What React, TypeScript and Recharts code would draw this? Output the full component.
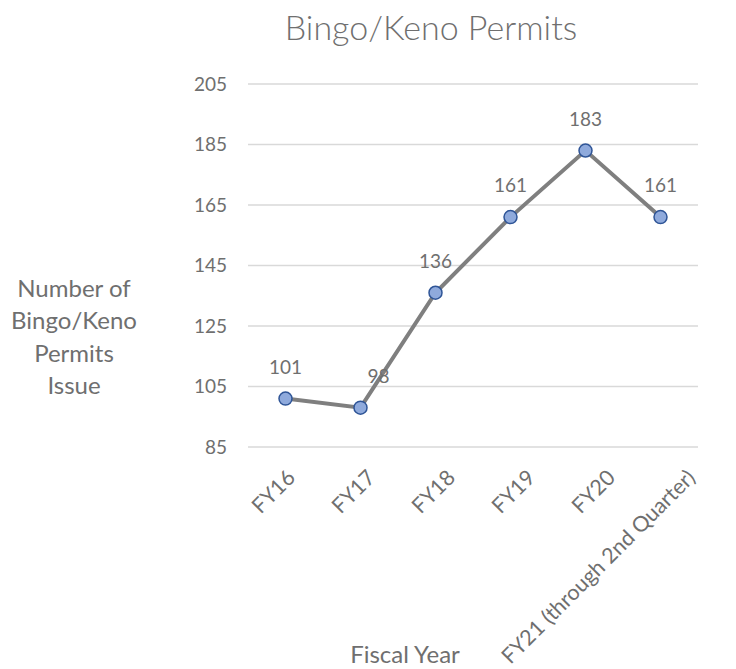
import React from 'react';
import { LineChart, Line, XAxis, YAxis, CartesianGrid, LabelList, Customized } from 'recharts';

// Chart data
const fiscalYears = ['FY16', 'FY17', 'FY18', 'FY19', 'FY20', 'FY21 (through 2nd Quarter)'];
const permitsIssued = [101, 98, 136, 161, 183, 161];
const yTicks = [85, 105, 125, 145, 165, 185, 205];

const chartTitle = 'Bingo/Keno Permits';
const yAxisTitle = ['Number of', 'Bingo/Keno', 'Permits', 'Issue'];
const xAxisTitle = 'Fiscal Year';

const data = fiscalYears.map((fy, i) => ({ fy, permits: permitsIssued[i] }));

const FONT = 'Lato, "Open Sans", sans-serif';
const TEXT = '#6f6f6f';

// angled category labels, end of the text sits just right of the point
const XTick = (props: any) => {
  const { x, y, payload, index } = props;
  const tx = x + 11 + index * 5;
  const ty = y + 24;
  return (
    <text
      x={tx}
      y={ty}
      textAnchor="end"
      fontSize={21.5}
      fill={TEXT}
      fontFamily={FONT}
      transform={`rotate(-45, ${tx}, ${ty})`}
    >
      {payload.value}
    </text>
  );
};

// value labels above each point (the FY17 one sits a little to the right, like the original)
const ValueLabel = (props: any) => {
  const { x, y, value, index } = props;
  const dx = index === 1 ? 18 : 0;
  return (
    <text x={x + dx} y={y - 25} textAnchor="middle" fontSize={19} fill={TEXT} fontFamily={FONT}>
      {value}
    </text>
  );
};

const Titles = () => (
  <g fontFamily={FONT} fill={TEXT}>
    <text x={431} y={40} textAnchor="middle" fontSize={34} fontWeight={300}>
      {chartTitle}
    </text>
    {yAxisTitle.map((line, i) => (
      <text key={line} x={74} y={297 + i * 32.3} textAnchor="middle" fontSize={24}>
        {line}
      </text>
    ))}
    <text x={405} y={663} textAnchor="middle" fontSize={24}>
      {xAxisTitle}
    </text>
  </g>
);

const App: React.FC = () => {
  return (
    <div style={{ position: 'absolute', left: 0, top: 0, background: '#fff' }}>
      <LineChart
        width={736}
        height={669}
        data={data}
        margin={{ top: 84, right: 38, left: 0, bottom: 0 }}
      >
        <CartesianGrid vertical={false} stroke="#d9d9d9" strokeWidth={1.3} />
        <XAxis
          dataKey="fy"
          interval={0}
          axisLine={false}
          tickLine={false}
          padding={{ left: 37.5, right: 37.5 }}
          tick={<XTick />}
          height={222}
        />
        <YAxis
          domain={[85, 205]}
          ticks={yTicks}
          interval={0}
          axisLine={false}
          tickLine={false}
          tickSize={0}
          tickMargin={21}
          width={248}
          tick={{ fill: TEXT, fontSize: 19, fontFamily: FONT }}
        />
        <Line
          dataKey="permits"
          stroke="#7f7f7f"
          strokeWidth={4}
          isAnimationActive={false}
          dot={{ r: 6.5, fill: '#8faadc', stroke: '#2f5597', strokeWidth: 1.5 }}
          activeDot={false}
        >
          <LabelList dataKey="permits" content={<ValueLabel />} />
        </Line>
        <Customized component={Titles} />
      </LineChart>
    </div>
  );
};

export default App;
